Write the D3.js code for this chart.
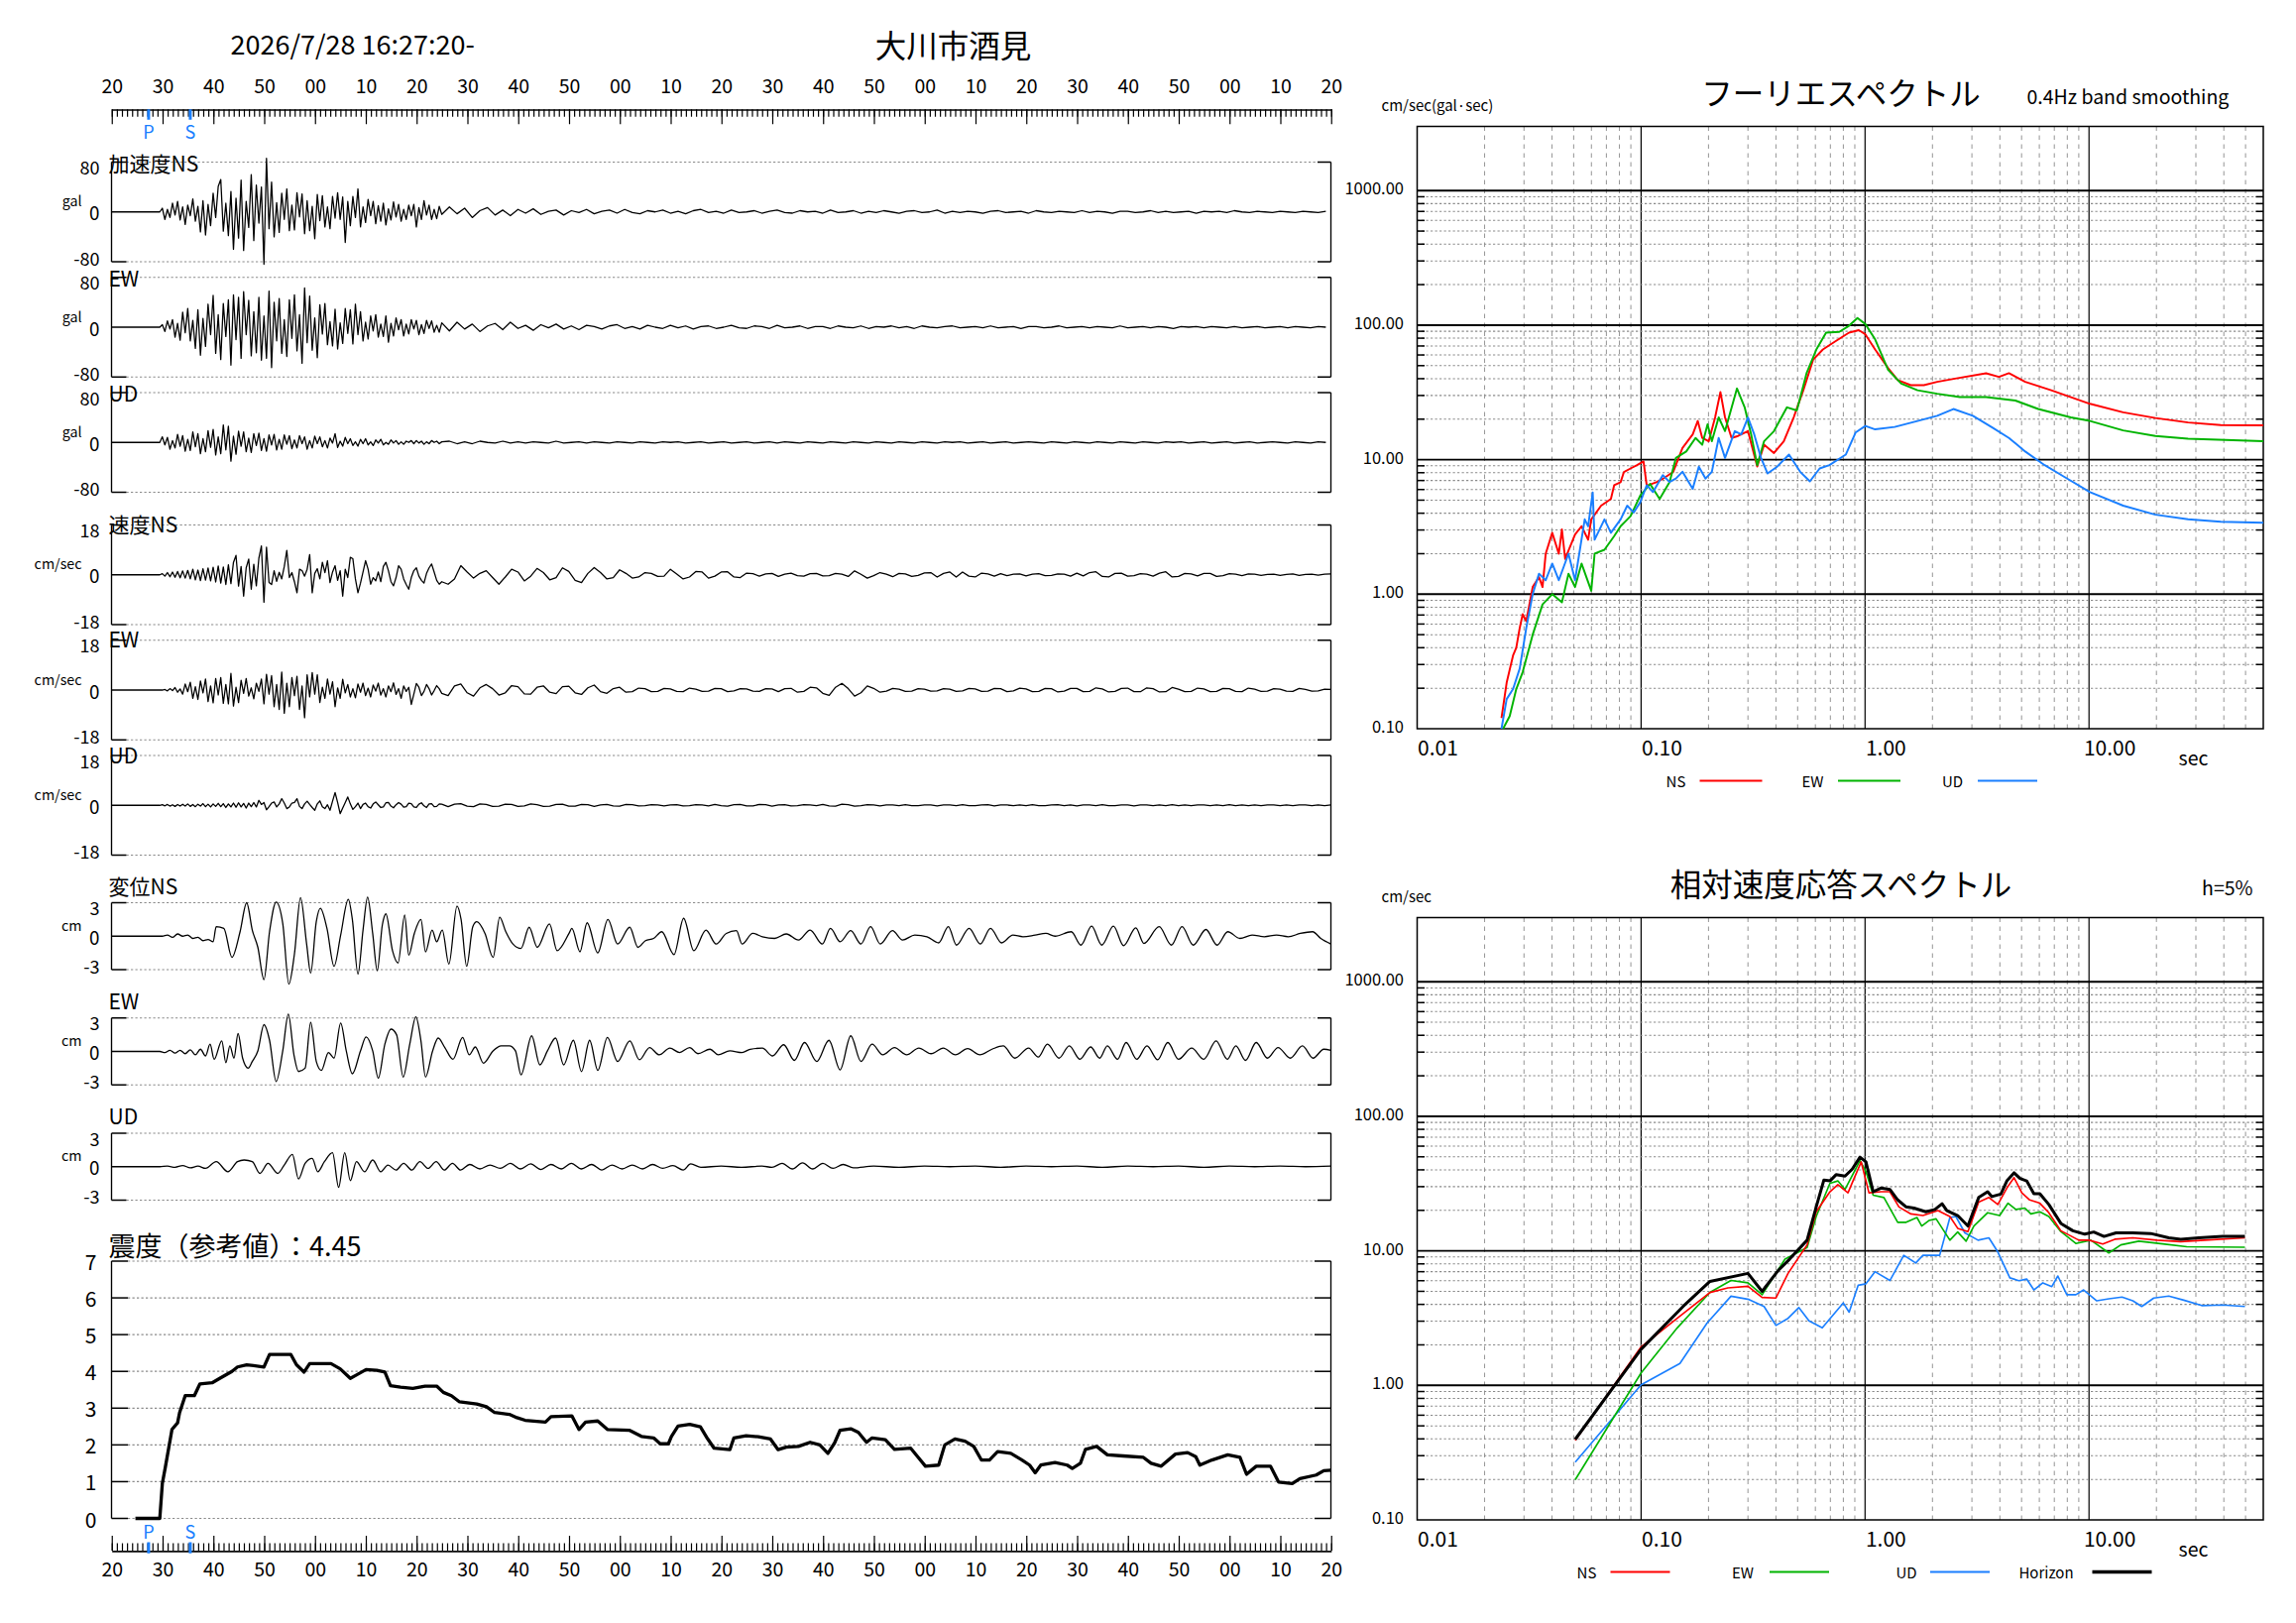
<!DOCTYPE html>
<html>
<head>
<meta charset="utf-8">
<script src="https://cdn.jsdelivr.net/npm/d3@7"></script>
<style>
  body { margin: 0; background: #fff; }
  text { font-family: 'Noto Sans CJK JP', 'Noto Sans', sans-serif; fill: #000; }
</style>
</head>
<body>
<svg id="chart"></svg>
<script>
// ---------- data ----------
var titleText = "2026/7/28 16:27:20-";
var stationName = "大川市酒見";
var timeLabels = ["20","30","40","50","00","10","20","30","40","50","00","10","20","30","40","50","00","10","20","30","40","50","00","10","20"];
var pTime = 7.3, sTime = 15.5;   // seconds after 16:27:20
var intensityTitle = "震度（参考値）：4.45";

// acceleration (gal): head every 0.5 s from 9.5 s, tail every 1.5 s
var accNS = [
  0, 6, -12, 4, -9, 14, -5, 17, -13, 8,
  -20, 11, -6, 21, -15, 9, -32, 18, -37, 12,
  -22, 30, -9, 41, 52, -31, 14, -38, 33, -60,
  22, -42, 51, -62, 17, -25, 60, -46, 43, -18,
  40, -84, 86, -27, 48, -40, 15, -33, 30, -12,
  37, -30, 11, -29, 31, -8, 29, -35, 18, -30,
  9, -43, 28, -14, 26, -24, 8, -27, 25, -10,
  31, -12, 24, -49, 17, -22, 25, -9, 37, -24,
  8, -17, 20, -6, 17, -19, 10, -15, 14, -21,
  5, -13, 16, -8, 12, -15, 4, -12, 11, -6,
  12, -24, 7, -12, 18, -5, 11, -12, 4, -11,
  9, -4
];
var accNSTail = [
  8, -3, 6, -9, 2, 7, -5, 3, -6, 4,
  -2, 5, -4, 1, 3, -5, 2, -1, 4, -3,
  1, 3, -2, 4, -1, -3, 2, 0, 3, -2,
  1, -3, 2, 4, -1, 1, -2, 3, -1, 0,
  2, -2, 1, 3, -1, -2, 2, 0, 1, -2,
  3, -1, 0, 2, -2, 1, -1, 2, 0, -2,
  1, 2, -1, 0, 3, -2, 1, -1, 1, 0,
  -2, 1, 2, -1, 0, 1, -2, 2, 0, -1,
  1, 0, -1, 2, -1, 1, 0, -2, 1, 1,
  -1, 0, 2, -1, 1, -1, 0, 1, -2, 1,
  0, 1, -1, 2, 0, -1, 1, 0, -1, 1,
  0, -1, 1, 0, -1, 1, 0
];
var accEW = [
  0, 4, -7, 10, -3, 12, -16, 6, -21, 24,
  -9, 30, -22, 11, -34, 28, -45, 14, -31, 37,
  -12, 51, -42, 20, -52, 38, -15, 44, -61, 52,
  -20, 48, -50, 57, -12, 43, -46, 25, -41, 48,
  -53, 18, -50, 58, -65, 40, -22, 46, -42, 12,
  -47, 44, -18, 52, -38, 20, -58, 63, -25, 50,
  -37, 15, -49, 36, -11, 38, -28, 9, -30, 29,
  -35, 7, -26, 30, -10, 28, -27, 37, -12, 25,
  -22, 8, -19, 18, -6, 20, -16, 5, -15, 18,
  -24, 6, -14, 15, -4, 12, -14, 5, -11, 12,
  -3, 11, -12, 4, -10, 11, -2, 10, -8, 3,
  -8, 7
];
var accEWTail = [
  -6, 8, -3, 5, -7, 2, 6, -4, 8, -2,
  3, -5, 4, -1, 5, -3, 2, -4, 3, 1,
  -3, 2, 4, -2, 1, -3, 3, 0, -2, 3,
  -1, 2, -3, 1, 2, -2, 0, 3, -1, -2,
  2, 1, -2, 3, -1, 0, 2, -2, 1, 1,
  -2, 2, 0, -1, 2, -2, 1, 0, 2, -1,
  1, -2, 2, 0, -1, 1, 2, -1, 0, 1,
  -1, 2, -1, 0, 1, -2, 1, 1, -1, 0,
  2, -1, 0, 1, -1, 1, 0, -1, 2, -1,
  0, 1, -1, 1, 0, -2, 1, 0, 1, -1,
  1, 0, -1, 1, -1, 0, 1, -1, 0, 1,
  -1, 1, 0, -1, 1, 0, -1
];
var accUD = [
  0, 9, -4, 8, -11, 3, -9, 13, -6, 11,
  -14, 5, -13, 17, -7, 14, -18, 6, -15, 19,
  -8, 21, -20, 9, -18, 28, -12, 26, -30, 10,
  -19, 18, -6, 17, -15, 7, -16, 14, -5, 15,
  -13, 6, -14, 12, -4, 13, -12, 5, -11, 12,
  -3, 11, -10, 4, -9, 11, -2, 9, -11, 3,
  -9, 10, -2, 9, -7, 3, -9, 7, -1, 14,
  -8, 2, -6, 8, -2, 6, -5, 1, -6, 5,
  -2, 6, -4, 1, -5, 4, -1, 5, -4, 0,
  -3, 4, -1, 3, -3, 1, -3, 2, 0, 3,
  -2, 3, -1, 2, -3, 1, -2, 3, 0, 2,
  -2, 1
];
var accUDTail = [
  2, -2, 1, -2, 2, 0, -1, 2, -1, 1,
  -1, 1, 0, -1, 2, -1, 0, 1, -1, 1,
  0, -1, 1, 0, -1, 1, 0, -1, 1, 0,
  1, -1, 0, 1, -1, 0, 1, -1, 0, 1,
  -1, 0, 1, -1, 1, 0, -1, 1, 0, -1,
  1, 0, -1, 1, 0, -1, 1, 0, -1, 1,
  0, -1, 1, 0, -1, 1, 0, 1, -1, 0,
  1, -1, 0, 1, -1, 0, 1, 0, -1, 1,
  0, -1, 1, 0, -1, 1, 0, -1, 1, 0,
  -1, 1, 0, -1, 1, 0, 1, -1, 0, 1,
  -1, 0, 1, -1, 0, 1, -1, 0, 1, 0,
  -1, 1, 0, -1, 1, 0, -1
];

// velocity (cm/sec): head every 0.5 s from 9.5 s, tail every 1.25 s
var velNS = [
  0, 0.4, -0.5, 0.8, -0.7, 1.0, -0.9, 1.2, -1.1, 1.4,
  -1.2, 1.6, -1.5, 2.0, -1.8, 1.7, -2.1, 2.2, -1.9, 2.5,
  -2.2, 2.7, -2.6, 3.2, -3.0, 2.8, -3.5, 3.6, -3.2, 4.5,
  7.0, -4.1, 3.0, -7.7, 2.5, 5.7, -5.2, 3.8, -4.0, 6.0,
  10.4, -9.9, 10.0, -2.8, -3.5, 1.5, -2.4, 0.9, -1.5, 3.0,
  8.8, -1.0, 0.8, -2.5, -6.5, 2.0, 1.5, -0.5, 2.0, 7.3,
  -6.5, 0.5, 2.2, -1.5, 4.5, 0.8, 5.1, -2.8, 1.0, 3.3,
  -2.0, 1.5, -7.7, 2.0, -1.0, 6.3, 5.8, -1.5, -6.5, -3.0,
  1.0, 5.1, 2.0, -3.4, -1.0, -2.2, 1.0, -2.5, 3.0, 4.5,
  1.5, -2.5, -4.0, -1.0, 3.3, 2.0, -1.5, -3.5, -5.2, -1.0,
  1.5, 2.5, -0.5, -2.0, -3.0, 0.5, 2.5, 3.9, 1.0, -2.0,
  -3.4, -2.5
];
var velNSTail = [
  -3.4, -1.5, 3.3, 1.0, -1.2, 0.5, 1.5, -1.0, -3.4, -0.8,
  2.0, 1.0, -2.2, -0.5, 2.3, 0.8, -1.8, -1.0, 2.5, 1.2,
  -2.0, -2.8, 0.5, 2.6, 0.8, -1.5, -1.0, 1.8, 0.5, -1.2,
  -0.8, 0.8, 0.5, -0.6, -0.5, 2.0, 0.3, -1.5, -0.8, 1.2,
  1.0, -1.2, -0.5, 1.0, 1.1, -0.8, -1.0, 0.6, 0.4, -0.5,
  0.3, 0.5, -0.6, 0.2, 0.6, -0.3, -0.5, 0.4, 0.5, -0.4,
  -0.3, 0.5, 0.2, -0.6, 1.4, 0.2, -1.2, -0.3, 0.8, 0.2,
  -0.7, 0.5, 0.3, -0.6, -0.2, 0.7, 0.8, -0.8, 0.5, 1.0,
  -0.8, 1.0, -0.5, -0.8, 0.6, 0.3, -0.5, 0.4, -0.3, 0.2,
  0.3, -0.4, 0.2, 0.4, -0.3, -0.2, 0.3, 0.2, -0.5, 0.6,
  -0.4, 0.8, 1.1, -0.6, -0.8, 0.5, 0.6, -0.5, -0.3, 0.4,
  0.2, -0.5, 0.6, 1.1, -0.8, -0.6, 0.5, 0.3, -0.4, 0.5,
  0.5, -0.6, -0.3, 0.4, 0.2, -0.3, 0.3, 0.2, -0.2, 0.1,
  0.2, -0.2, 0.1, 0.3, -0.2, 0.1, 0.2, -0.1, 0.2, 0.3
];
var velEW = [
  0, 0, 0.2, -0.3, 0.5, -0.2, 0.9, -0.8, 0.4, -1.5,
  2.2, -0.6, 2.8, -3.0, 1.2, -3.4, 3.3, -1.0, 4.0, -4.2,
  1.5, -4.6, 4.2, -1.8, 4.5, -4.8, 2.0, -5.0, 6.0, -5.8,
  1.0, -4.5, 3.5, -1.2, 4.2, -2.2, 0.8, -3.2, 2.5, -0.5,
  4.0, -5.0, 5.7, -1.5, 5.2, -6.0, 2.0, -7.0, 6.5, -8.4,
  2.5, -6.0, 4.5, -2.0, 5.0, -7.0, 1.5, -10.0, 5.5, -2.5,
  6.3, -1.5, 5.5, -4.5, 1.0, -3.0, 4.0, -1.5, 3.0, -6.0,
  0.8, -3.0, 3.9, -1.0, 2.0, -2.5, 0.5, -2.8, 2.2, -0.8,
  2.5, -2.0, 0.7, -2.5, 1.8, -0.4, 2.5, -1.8, 0.5, -2.5,
  1.5, -0.6, 2.6, -1.6, 0.5, -3.0, 1.5, -0.5, 1.0, -5.2,
  -1.5, 2.4, 1.0, -2.0, -0.5, 2.0, 0.5, -1.8, -0.2, 1.6,
  0.5, -1.2
];
var velEWTail = [
  -2.0, 1.5, 2.2, -1.0, -2.2, 0.8, 2.0, 0.5, -1.8, -1.0,
  1.6, 1.2, -1.4, -1.5, 1.0, 1.5, -0.8, -1.3, 1.2, 1.4,
  -1.0, -1.6, 0.8, 1.8, -0.6, -1.2, 0.5, 1.0, -0.8, -0.6,
  0.7, 0.5, -0.6, -0.5, 0.6, 0.4, -0.5, -0.6, 0.7, 0.3,
  -0.5, -0.4, 0.6, 0.5, -0.6, -0.3, 0.5, 0.4, -0.4, -0.5,
  0.5, 0.4, -0.6, 0.5, 0.6, -0.8, -0.5, 1.0, 0.8, -1.2,
  -1.9, 1.0, 2.4, 0.5, -2.2, -1.0, 1.5, 0.6, -0.8, -0.4,
  0.6, 0.3, -0.5, -0.4, 0.5, 0.3, -0.4, -0.3, 0.5, 0.3,
  -0.5, -0.3, 0.6, 0.4, -0.5, -0.4, 0.6, 0.5, -0.6, -0.3,
  0.7, 0.4, -0.6, -0.5, 0.6, 0.5, -0.7, -0.4, 0.6, 0.6,
  -0.6, -0.5, 0.8, 0.4, -0.7, -0.5, 0.6, 0.7, -0.6, -0.6,
  0.8, 0.5, -0.7, -0.6, 0.9, 0.3, -0.6, -0.5, 0.7, 0.4,
  -0.6, -0.5, 0.6, 0.5, -0.5, -0.6, 0.7, 0.3, -0.5, -0.4,
  0.5, 0.3, -0.4, -0.5, 0.6, 0.2, -0.4, -0.3, 0.3, 0.2
];
var velUD = [
  0, 0.2, -0.2, 0.3, -0.3, 0.2, -0.4, 0.3, -0.3, 0.4,
  -0.3, 0.5, -0.4, 0.3, -0.5, 0.4, -0.3, 0.6, -0.5, 0.4,
  -0.6, 0.5, -0.4, 0.7, -0.5, 0.6, -0.8, 0.5, -0.6, 0.8,
  -0.7, 0.9, -0.6, 0.7, -1.0, 0.8, -0.5, 1.0, -0.6, 1.8,
  0.3, 1.0, -1.6, -0.5, 0.8, 1.2, -0.6, 0.5, 2.4, 0.8,
  -1.2, -0.6, 0.8, 1.0, 2.4, -0.4, -1.2, 0.5, 1.5, 0.3,
  -0.8, -1.8, 0.5, 1.6, -0.5, -1.2, 0.2, -1.8, 1.5, 4.6,
  1.0, -3.0, -1.0, 1.0, 3.0, 0.5, -1.5, -0.5, 0.8, -1.2,
  0.3, 0.8, -0.5, -1.0, 0.5, 1.2, 0.2, -0.8, -0.6, 0.9,
  1.0, -0.3, -0.9, 0.2, 1.0, 0.4, -0.7, -0.5, 0.8, 0.6,
  -0.6, -0.8, 0.4, 0.9, -0.2, -0.8, 0.5, 0.6, -0.5, -0.4,
  0.5, 0.4
];
var velUDTail = [
  -0.5, 0.4, 0.6, -0.3, -0.5, 0.5, 0.3, -0.4, -0.3, 0.4,
  0.3, -0.4, -0.2, 0.5, 0.2, -0.4, -0.3, 0.3, 0.4, -0.3,
  -0.3, 0.3, 0.2, -0.4, 0.1, 0.3, -0.2, -0.3, 0.3, 0.2,
  -0.2, -0.1, 0.2, 0.1, -0.2, 0.1, 0.2, -0.2, -0.1, 0.2,
  0.1, -0.2, 0.3, -0.1, -0.3, 0.2, 0.3, -0.2, -0.2, 0.3,
  0.2, -0.3, 0.1, 0.2, -0.2, -0.1, 0.2, 0.1, -0.1, 0.3,
  -0.2, -0.3, 0.4, 0.2, -0.3, -0.1, 0.2, 0.1, -0.2, 0.1,
  0.1, -0.1, 0.2, -0.1, -0.1, 0.1, 0.1, -0.2, 0.1, 0.1,
  -0.1, 0.2, -0.1, -0.1, 0.1, 0.2, -0.2, 0.1, 0.1, -0.1,
  0.1, -0.1, 0.2, -0.1, -0.1, 0.1, 0.2, -0.1, 0.1, -0.2,
  0.1, 0.1, -0.1, 0.2, -0.1, -0.1, 0.1, 0.1, -0.2, 0.1,
  0.1, -0.1, 0.1, -0.1, 0.2, -0.1, 0.1, -0.1, 0.1, 0.1,
  -0.1, 0.1, -0.1, 0.2, -0.1, 0.1, -0.1, 0.1, -0.1, 0.1,
  0.1, -0.1, 0.1, -0.1, 0.1, 0.1, -0.1, 0.1, -0.1, 0.1
];

// displacement (cm): [seconds, value] at the turning points
var dispNS = [
  [10,0],[11,0.1],[12,-0.1],[13,0.2],[14,0],[15,0.1],[16,-0.2],[17,-0.1],[18,-0.4],[19,-0.3],
  [20,-0.5],[20.6,0.85],[22.1,0.7],[23.7,-1.9],[25.3,0.4],[26.6,3.0],[27.7,0.55],[28.8,-1.0],[30,-3.9],[31.1,0.4],
  [32.4,3.06],[33.7,1.15],[34.9,-4.3],[36,-1.6],[37.2,3.45],[38.4,-0.7],[39.2,-3.3],[40.3,1.3],[41.1,2.5],[42.4,0.7],
  [43.8,-2.7],[45.1,0.1],[46.6,3.3],[47.4,1.5],[48.5,-3.4],[49.5,0.55],[50.4,3.5],[51.4,0.25],[52.3,-3.1],[53.3,1.0],
  [54,2.0],[55.3,-1.3],[56.4,-2.4],[57.7,1.9],[58.5,-1.7],[59.6,0.25],[60.9,1.5],[61.8,-1.4],[63.1,0.55],[64,-0.5],
  [65.1,0.55],[66.4,-2.5],[68,2.7],[68.8,1.5],[69.9,-2.7],[71.1,0.85],[71.9,1.3],[73.5,0.25],[75.1,-1.9],[76.4,1.7],
  [77.6,0.4],[79,-0.7],[80.6,-1.1],[82.2,0.8],[83.8,-1.0],[86.2,1.1],[87.7,-1.3],[90.1,0.3],[90.6,0.7],[92.2,-1.4],
  [93.6,1.2],[95.7,-1.5],[97.7,1.5],[99.6,-0.7],[102,0.8],[103.6,-1.0],[105.1,-0.4],[106.7,-0.2],[108.3,0.4],[110.7,-1.65],
  [112.6,1.6],[114.6,-1.3],[117,0.55],[119,-0.7],[121,0.25],[123,0.5],[124.1,-0.7],[126.2,0.25],[128.1,-0.05],[130.5,-0.2],
  [132.8,0.2],[135.2,-0.35],[137.5,0.55],[139.9,-0.7],[141.5,0.7],[143.4,-0.5],[145.5,0.5],[147.5,-0.7],[149.4,0.86],[151.3,-0.7],
  [153.7,0.5],[155.7,-0.35],[158.1,0.1],[160.5,-0.05],[162.8,-0.6],[164.7,0.86],[166.3,-0.8],[168.8,0.7],[171,-0.7],[173,0.7],
  [175.2,-0.6],[177.4,0.1],[179.4,-0.05],[181.8,0.1],[183.9,0.25],[185.7,0],[188.9,0.4],[190.8,-0.8],[192.9,0.9],[194.9,-0.8],
  [197.2,0.9],[199.2,-0.85],[201.6,0.75],[203.2,-0.65],[206.2,0.85],[208.6,-0.8],[210.7,0.85],[212.9,-0.8],[215.4,0.6],[217.6,-0.8],
  [219.7,0.4],[222.1,-0.2],[224.5,0.1],[226.9,-0.05],[229.3,0.1],[231.6,-0.05],[234,0.25],[236.4,0.4],[238,-0.2],[240,-0.7]
];
var dispEW = [
  [9.5,0],[10.5,-0.1],[11.5,0.1],[12.5,-0.15],[13.5,0.1],[14.5,-0.2],[15.5,0.15],[16.5,-0.3],[17.5,0.2],[18.5,-0.4],
  [19.4,0.65],[20.2,-0.7],[21.7,0.95],[22.5,-1.0],[23.3,0.5],[24.1,-0.6],[24.9,1.6],[25.8,-0.6],[26.9,-1.5],[27.7,-0.9],
  [28.8,0.05],[30,2.4],[31.1,1.0],[32.4,-2.7],[33.7,0.05],[34.8,3.35],[35.9,-0.3],[36.8,-1.8],[38.1,-1.5],[39.2,2.6],
  [40.3,-0.9],[41.3,-1.7],[42.7,-0.1],[43.8,-0.6],[45.1,2.55],[46.2,0.05],[47.4,-2.0],[49,0.05],[50.1,1.3],[51.4,0.05],
  [52.5,-2.4],[53.8,0.65],[55,2.0],[56.1,1.5],[57.4,-2.3],[58.7,0.65],[59.9,3.1],[60.9,0.95],[61.8,-2.3],[63.2,0.05],
  [64.3,1.2],[65.6,0.35],[67.2,-0.7],[69.1,1.26],[70.4,-0.3],[71.6,0.4],[73.2,-1.05],[75.1,0.05],[76.7,0.5],[78.3,0.5],
  [79.5,0.05],[80.6,-2.1],[82.7,1.4],[84.3,-1.2],[85.8,0.05],[87.4,1.2],[89,-1.2],[90.9,1.0],[92.5,-1.8],[94.1,1.0],
  [95.7,-1.7],[97.6,1.25],[99.6,-0.9],[102,0.95],[103.9,-0.75],[105.9,0.35],[107.8,-0.3],[109.9,0.3],[111.8,-0.1],[113.8,0.35],
  [115.4,-0.2],[117.8,0.2],[119.4,-0.3],[121.7,0.05],[124.1,-0.1],[125.7,0.2],[128.1,0.3],[130.1,-0.4],[132.3,0.6],[134.4,-0.8],
  [136.4,0.8],[138.8,-0.9],[141.2,1.0],[143.4,-1.65],[145.5,1.4],[147.5,-0.9],[149.7,0.65],[151.8,-0.3],[154.1,0.35],[156.5,-0.3],
  [158.9,0.3],[161.3,-0.2],[163.7,0.3],[166.1,-0.3],[168.5,0.25],[170.9,-0.3],[173.3,0.2],[175.5,0.5],[177.8,-0.6],[180.5,0.3],
  [182.4,-0.5],[184.2,0.65],[186.5,-0.6],[188.5,0.5],[190.6,-0.7],[192.7,0.4],[194.5,-0.6],[196,0.5],[198,-0.7],[199.7,0.8],
  [201.8,-0.7],[203.8,0.5],[205.9,-0.75],[207.9,0.8],[210,-0.7],[212.6,0.3],[215,-0.7],[217.4,0.95],[219.6,-0.7],[221.3,0.5],
  [223.2,-0.8],[225.3,0.8],[227.5,-0.6],[229.6,0.35],[232,-0.6],[234.4,0.5],[236.5,-0.6],[238.6,0.2],[240,0.1]
];
var dispUD = [
  [9.5,0],[11,0.05],[12.5,-0.05],[14,0.1],[15.5,-0.1],[17,0.05],[18.5,-0.15],[20.6,0.45],[22.9,-0.45],[24.8,0.45],
  [26.1,0.6],[27.7,0.45],[29.2,-0.6],[30.8,0.3],[32.7,-0.6],[34,0.15],[35.6,1.1],[36.8,-1.1],[38.1,0.3],[39.5,0.75],
  [40.6,-0.45],[41.9,0.45],[43.5,1.25],[44.7,-1.85],[45.9,1.25],[47,-1.25],[48.2,0.45],[49.8,-0.45],[51.4,0.6],[53,-0.45],
  [54.4,0.15],[56,-0.3],[57.5,0.3],[59.1,-0.3],[60.7,0.45],[62.3,-0.15],[63.9,0.45],[65.5,-0.3],[67.1,0.3],[68.7,-0.3],
  [70.5,0.2],[72.5,-0.2],[74.5,0.15],[76.5,-0.15],[78.5,0.3],[80.5,-0.2],[82.5,0.25],[84.5,-0.25],[86.5,0.2],[88.5,-0.2],
  [90.5,0.3],[92.5,-0.2],[94.5,0.2],[96.5,-0.3],[98.5,0.15],[100.5,-0.2],[102.5,0.15],[104.5,-0.2],[106.5,0.2],[108.5,-0.15],
  [110.5,0.1],[112.5,-0.3],[114,0.25],[116,-0.05],[120,0.05],[124,-0.05],[128,0.05],[130,-0.05],[132,0.3],[134,-0.2],
  [136,0.35],[138,-0.2],[140,0.3],[142,-0.15],[144,0.2],[146,-0.1],[150,0.05],[155,-0.05],[160,0.05],[165,0],
  [170,0.05],[175,-0.05],[180,0.05],[185,0],[190,0.05],[195,-0.05],[200,0.05],[205,0],[210,0.05],[215,-0.05],
  [220,0.05],[225,0],[230,0.05],[235,0],[240,0.05]
];

// seismic intensity (reference), [seconds, value]
var intensity = [
  [4.7,0],[9.5,0],[10,0.95],[10.6,1.4],[11.9,2.42],[13,2.6],[13.4,2.88],[14.5,3.34],[16.3,3.34],[17.4,3.66],
  [19.8,3.69],[21.3,3.81],[23.7,4.0],[24.8,4.12],[26.6,4.18],[30,4.12],[31.1,4.46],[35.3,4.46],[36.4,4.18],[37.9,3.98],
  [39,4.21],[43.2,4.21],[45,4.07],[47,3.81],[48.2,3.9],[50.1,4.05],[52.2,4.03],[53.8,3.98],[54.9,3.61],[56.9,3.57],
  [59.3,3.54],[61.7,3.6],[64,3.6],[65.3,3.43],[66.9,3.34],[68.5,3.17],[71.9,3.11],[73.8,3.04],[75.4,2.88],[78.3,2.83],
  [79.8,2.74],[81.4,2.67],[85.4,2.62],[86.5,2.77],[90.6,2.79],[92,2.42],[93.3,2.62],[95.7,2.65],[97.6,2.42],[101.9,2.4],
  [104.3,2.23],[106.7,2.19],[108,2.03],[109.6,2.03],[110.2,2.23],[111.5,2.51],[113.8,2.56],[115.9,2.49],[117.3,2.17],[118.6,1.91],
  [121.7,1.87],[122.5,2.19],[124.9,2.25],[127.3,2.22],[129.7,2.16],[131.2,1.87],[132.8,1.94],[135.2,1.96],[137.5,2.07],[139.4,2.0],
  [141,1.77],[142.3,2.05],[143.4,2.4],[145.5,2.44],[147,2.34],[148.6,2.07],[149.7,2.19],[152.3,2.14],[154.1,1.88],[157.3,1.91],
  [158.9,1.64],[160.2,1.42],[162.8,1.45],[164,2.0],[166,2.16],[168,2.1],[169.7,1.96],[171.2,1.59],[172.8,1.59],[174.4,1.82],
  [177,1.77],[179.2,1.59],[180.7,1.45],[181.8,1.24],[182.9,1.45],[185.7,1.52],[188.1,1.45],[189.1,1.36],[190.7,1.5],[191.7,1.88],
  [193.9,1.96],[196,1.73],[199.1,1.7],[203.1,1.66],[204.6,1.5],[206.6,1.42],[209.4,1.75],[211.8,1.79],[213.4,1.68],[214.2,1.45],
  [216.6,1.59],[219.7,1.73],[222.1,1.66],[223.4,1.2],[225.3,1.42],[228.1,1.42],[229.7,0.99],[232.4,0.95],[233.9,1.08],[237.1,1.18],
  [238.6,1.3],[240,1.31]
];

// Fourier spectra, [period sec, cm/sec]
var fourierNS = [
  [0.0238,0.12],[0.0251,0.22],[0.0268,0.35],[0.0277,0.40],[0.0287,0.56],[0.0296,0.71],[0.0307,0.63],[0.0328,1.13],[0.035,1.34],[0.0363,1.13],
  [0.0375,2.0],[0.0401,2.86],[0.0429,2.0],[0.0443,3.03],[0.0458,1.83],[0.0507,2.78],[0.0542,3.2],[0.058,2.54],[0.0599,3.6],[0.0663,4.55],
  [0.0733,5.1],[0.0758,6.45],[0.081,6.8],[0.0838,8.1],[0.0897,8.6],[0.0959,9.1],[0.1025,9.7],[0.106,6.4],[0.117,6.8],[0.125,7.2],
  [0.139,8.1],[0.153,12.2],[0.170,15.4],[0.179,19.4],[0.1875,14.5],[0.2005,13.7],[0.214,20.6],[0.226,31.8],[0.237,20.6],[0.2535,14.5],
  [0.271,15],[0.30,16.3],[0.33,8.9],[0.354,12.9],[0.392,11.2],[0.4335,13.7],[0.48,20.6],[0.53,32.8],[0.586,55.3],[0.648,65.9],
  [0.74,76.2],[0.848,88],[0.938,91.7],[1.003,85.5],[1.109,65.9],[1.268,47.8],[1.40,39],[1.60,35.8],[1.83,35.8],[2.10,37.9],
  [2.56,40.2],[3.47,43.9],[3.96,41.2],[4.39,43.9],[5.19,37.9],[6.78,32.8],[10.1,26],[14.2,22.5],[19.8,20.4],[27.7,18.9],
  [38.8,18.1],[60,18.0]
];
var fourierEW = [
  [0.0242,0.1],[0.0259,0.124],[0.0277,0.197],[0.0296,0.264],[0.0328,0.5],[0.0363,0.84],[0.0401,1.0],[0.0443,0.87],[0.0474,1.42],[0.0507,1.13],
  [0.0542,1.69],[0.0599,1.06],[0.062,2.0],[0.0686,2.14],[0.0758,2.7],[0.081,3.2],[0.0897,3.8],[0.0991,5.4],[0.1096,6.6],[0.121,5.1],
  [0.134,6.8],[0.143,10.3],[0.159,11.5],[0.175,14.5],[0.1875,12.9],[0.198,18.3],[0.207,13.7],[0.222,20.6],[0.237,16.3],[0.268,33.8],
  [0.29,24.5],[0.31,15.4],[0.33,9.1],[0.354,13.7],[0.392,16.3],[0.448,24.5],[0.496,23.2],[0.548,43.9],[0.606,65.9],[0.67,88],
  [0.767,89],[0.848,98.9],[0.925,113],[1.003,101.8],[1.109,78.4],[1.268,46.5],[1.45,36.8],[1.715,32.8],[2.10,30.9],[2.65,29.2],
  [3.47,29.2],[4.69,27.5],[5.93,23.8],[8.29,20.6],[10.1,19.4],[14.2,16.5],[19.8,15],[27.7,14.3],[60,13.7]
];
var fourierUD = [
  [0.0238,0.1],[0.0251,0.166],[0.0268,0.197],[0.0287,0.28],[0.0307,0.56],[0.0328,1.0],[0.035,1.42],[0.0375,1.27],[0.0401,1.69],[0.0429,1.27],
  [0.0474,2.0],[0.0507,1.27],[0.056,3.6],[0.058,3.2],[0.0608,5.7],[0.062,2.54],[0.0686,3.6],[0.0733,2.86],[0.081,3.6],[0.0867,4.55],
  [0.0927,4.05],[0.0991,4.82],[0.106,6.45],[0.113,5.74],[0.125,7.67],[0.134,6.83],[0.143,7.24],[0.153,8.13],[0.17,6.08],[0.181,8.87],
  [0.194,7.24],[0.207,8.13],[0.222,14.5],[0.237,10.3],[0.262,16.3],[0.28,15.4],[0.30,20.6],[0.32,15.4],[0.343,10.3],[0.367,7.9],
  [0.405,8.87],[0.4575,10.9],[0.513,8.13],[0.567,6.9],[0.627,8.6],[0.693,9.1],[0.82,10.9],[0.907,15.9],[1.003,17.8],[1.109,16.8],
  [1.356,17.5],[1.715,19.4],[2.10,21.2],[2.48,23.8],[3.03,21.2],[3.71,17.3],[4.39,14.5],[5.19,11.5],[6.34,9.1],[7.76,7.45],
  [10.1,5.74],[14.2,4.55],[19.8,3.9],[27.7,3.6],[38.8,3.45],[60,3.4]
];

// relative velocity response spectra h=5%, [period sec, cm/sec]
var respNS = [
  [0.0508,0.39],[0.1,1.93],[0.145,3.15],[0.203,4.9],[0.244,5.3],[0.30,5.45],[0.347,4.5],[0.400,4.46],[0.453,6.8],[0.551,11.07],
  [0.605,19.5],[0.697,27.5],[0.756,31.0],[0.839,27.0],[0.893,34.5],[0.961,45.8],[1.041,27.0],[1.177,27.5],[1.291,27.5],[1.417,21.2],
  [1.603,18.8],[1.813,18.3],[2.115,19.9],[2.392,18.0],[2.592,14.7],[2.879,13.9],[3.216,23.0],[3.572,24.9],[3.917,22.1],[4.297,29.3],
  [4.627,35.0],[5.014,27.0],[5.433,23.9],[6.032,22.6],[6.616,19.2],[7.486,14.1],[9.007,12.0],[10.0,12.0],[11.52,11.25],[13.04,12.2],
  [15.69,12.5],[20.07,12.0],[25.68,11.7],[32.86,12.0],[49.68,12.5]
];
var respEW = [
  [0.0508,0.199],[0.1,1.237],[0.145,2.675],[0.203,4.915],[0.252,6.02],[0.30,5.78],[0.347,4.72],[0.439,8.68],[0.551,10.6],[0.605,18.0],
  [0.697,31.8],[0.756,33.1],[0.814,28.6],[0.949,46.9],[1.009,38.9],[1.087,25.9],[1.214,24.9],[1.399,16.3],[1.526,16.3],[1.705,17.7],
  [1.791,15.3],[1.928,16.8],[2.076,17.3],[2.392,12.0],[2.592,13.8],[2.826,11.8],[3.061,15.3],[3.528,19.2],[3.99,18.3],[4.35,22.6],
  [4.714,20.3],[5.17,20.8],[5.5,18.8],[6.032,19.5],[6.616,18.0],[7.486,13.9],[8.733,11.34],[10.19,12.0],[12.26,9.64],[13.87,11.07],
  [16.68,11.81],[21.34,11.25],[27.32,10.72],[49.68,10.63]
];
var respUD = [
  [0.0508,0.269],[0.1,1.01],[0.149,1.455],[0.197,2.9],[0.252,4.6],[0.303,4.35],[0.354,3.86],[0.40,2.79],[0.453,3.15],[0.506,3.79],
  [0.562,3.02],[0.644,2.675],[0.719,3.33],[0.799,4.1],[0.849,3.5],[0.932,5.55],[1.009,5.69],[1.107,7.0],[1.291,6.02],[1.489,9.26],
  [1.684,8.13],[1.813,9.26],[2.154,9.26],[2.392,17.7],[2.544,18.0],[2.791,13.6],[3.196,12.0],[3.572,12.5],[3.917,9.8],[4.431,6.3],
  [4.862,6.0],[5.267,6.17],[5.672,5.12],[6.22,5.78],[6.823,5.42],[7.258,6.5],[7.961,4.72],[8.733,4.72],[9.461,5.12],[10.83,4.25],
  [12.26,4.4],[14.04,4.53],[15.69,4.25],[17.2,3.86],[19.46,4.46],[22.71,4.61],[26.49,4.3],[31.87,3.92],[39.54,3.96],[49.68,3.86]
];
var respH = [
  [0.0508,0.397],[0.1,1.857],[0.154,3.86],[0.203,5.93],[0.300,6.8],[0.347,5.0],[0.408,7.1],[0.461,8.7],[0.551,12.0],[0.605,21.2],
  [0.655,33.6],[0.697,33.1],[0.742,36.8],[0.814,35.9],[0.876,40.5],[0.949,49.7],[1.009,45.8],[1.087,27.5],[1.177,29.3],[1.291,28.6],
  [1.399,23.9],[1.526,21.2],[1.653,20.8],[1.87,19.5],[2.051,20.3],[2.208,22.4],[2.32,19.9],[2.592,18.3],[2.879,15.3],[3.216,24.9],
  [3.528,27.5],[3.684,25.3],[4.04,26.4],[4.297,33.1],[4.627,38.0],[4.922,34.5],[5.267,33.1],[5.672,26.6],[6.032,26.6],[6.616,22.1],
  [7.486,16.0],[8.467,14.1],[9.577,13.3],[10.5,13.8],[11.67,12.8],[13.2,13.6],[15.69,13.6],[18.87,13.45],[22.71,12.5],[25.68,12.2],
  [30.9,12.5],[39.54,12.8],[49.68,12.8]
];

// ---------- drawing ----------
var W = 1544, H = 1091.33;
var RED = "#ff0000", GREEN = "#00b400", BLUE = "#1a7fff";

var svg = d3.select("#chart")
  .attr("width", 2316)
  .attr("height", 1637)
  .attr("viewBox", "0 0 " + W + " " + H);

svg.append("rect").attr("width", W).attr("height", H).attr("fill", "#fff");

function label(g, x, y, txt, size, anchor, color) {
  return g.append("text")
    .attr("x", x).attr("y", y)
    .attr("font-size", size)
    .attr("text-anchor", anchor || "start")
    .attr("dominant-baseline", "central")
    .style("fill", color || "#000")
    .text(txt);
}

// titles
label(svg, 155, 29, titleText, 18);
label(svg, 641, 29, stationName, 21, "middle");

// time scale shared by the left column
var xT = d3.scaleLinear().domain([0, 240]).range([75, 895]);

function styleAxis(g) {
  g.selectAll("path, line").attr("stroke", "#000").attr("stroke-width", 0.8);
  g.selectAll("text").attr("font-size", 13).style("fill", "#000");
  g.attr("font-family", null);
}

// top time axis
var topAxis = svg.append("g").attr("transform", "translate(0,73.5)");
topAxis.append("g").call(d3.axisTop(xT).tickValues(d3.range(0, 241, 1)).tickSize(-5).tickSizeOuter(0).tickFormat(""))
  .call(styleAxis);
topAxis.append("g").call(d3.axisTop(xT).tickValues(d3.range(0, 241, 10)).tickSize(-10).tickSizeOuter(0)
  .tickPadding(11).tickFormat(function(d, i) { return timeLabels[i]; }))
  .call(styleAxis);

// bottom time axis
var botAxis = svg.append("g").attr("transform", "translate(0,1042.7)");
botAxis.append("g").call(d3.axisBottom(xT).tickValues(d3.range(0, 241, 1)).tickSize(-5).tickSizeOuter(0).tickFormat(""))
  .call(styleAxis);
botAxis.append("g").call(d3.axisBottom(xT).tickValues(d3.range(0, 241, 10)).tickSize(-10).tickSizeOuter(0)
  .tickPadding(8).tickFormat(function(d, i) { return timeLabels[i]; }))
  .call(styleAxis);

// P / S markers
[["P", pTime], ["S", sTime]].forEach(function(m) {
  svg.append("line").attr("x1", xT(m[1])).attr("x2", xT(m[1])).attr("y1", 73.5).attr("y2", 80.5)
    .attr("stroke", BLUE).attr("stroke-width", 2);
  label(svg, xT(m[1]), 88, m[0], 12, "middle", BLUE);
  svg.append("line").attr("x1", xT(m[1])).attr("x2", xT(m[1])).attr("y1", 1037).attr("y2", 1044.5)
    .attr("stroke", BLUE).attr("stroke-width", 2);
  label(svg, xT(m[1]), 1029, m[0], 12, "middle", BLUE);
});

function uniformPoints(head, t0, dt1, tail, dt2) {
  var pts = head.map(function(v, i) { return [t0 + i * dt1, v]; });
  var tEnd = t0 + (head.length - 1) * dt1;
  tail.forEach(function(v, j) { pts.push([tEnd + (j + 1) * dt2, v]); });
  return pts.filter(function(d) { return d[0] <= 240; });
}

var traces = [
  { name: "加速度NS", unit: "gal", max: 80, top: 109, half: 33.5, titleY: 109, pts: uniformPoints(accNS, 9.5, 0.5, accNSTail, 1.5) },
  { name: "EW", unit: "gal", max: 80, top: 186.5, half: 33.5, titleY: 186.5, pts: uniformPoints(accEW, 9.5, 0.5, accEWTail, 1.5) },
  { name: "UD", unit: "gal", max: 80, top: 264, half: 33.5, titleY: 264, pts: uniformPoints(accUD, 9.5, 0.5, accUDTail, 1.5) },
  { name: "速度NS", unit: "cm/sec", max: 18, top: 353, half: 33.5, titleY: 352, pts: uniformPoints(velNS, 9.5, 0.5, velNSTail, 1.25) },
  { name: "EW", unit: "cm/sec", max: 18, top: 430.5, half: 33.5, titleY: 429.5, pts: uniformPoints(velEW, 9.5, 0.5, velEWTail, 1.25) },
  { name: "UD", unit: "cm/sec", max: 18, top: 508, half: 33.5, titleY: 507, pts: uniformPoints(velUD, 9.5, 0.5, velUDTail, 1.25) },
  { name: "変位NS", unit: "cm", max: 3, top: 607, half: 22.5, titleY: 595, pts: dispNS, smooth: true },
  { name: "EW", unit: "cm", max: 3, top: 684.5, half: 22.5, titleY: 672.5, pts: dispEW, smooth: true },
  { name: "UD", unit: "cm", max: 3, top: 762, half: 22.5, titleY: 750, pts: dispUD, smooth: true }
];

traces.forEach(function(tr) {
  var y = d3.scaleLinear().domain([-tr.max, tr.max]).range([tr.top + 2 * tr.half, tr.top]);
  var g = svg.append("g");
  [tr.max, -tr.max].forEach(function(v) {
    g.append("line").attr("x1", 85).attr("x2", 886).attr("y1", y(v)).attr("y2", y(v))
      .attr("stroke", "#8a8a8a").attr("stroke-width", 0.8).attr("stroke-dasharray", "1.5,1.5");
    g.append("line").attr("x1", 75).attr("x2", 85).attr("y1", y(v)).attr("y2", y(v)).attr("stroke", "#000").attr("stroke-width", 1);
    g.append("line").attr("x1", 886).attr("x2", 895).attr("y1", y(v)).attr("y2", y(v)).attr("stroke", "#000").attr("stroke-width", 1);
  });
  g.append("line").attr("x1", 75).attr("x2", 75).attr("y1", y(tr.max)).attr("y2", y(-tr.max)).attr("stroke", "#000").attr("stroke-width", 0.9);
  g.append("line").attr("x1", 895).attr("x2", 895).attr("y1", y(tr.max)).attr("y2", y(-tr.max)).attr("stroke", "#000").attr("stroke-width", 0.9);

  // limit labels nudged inwards so stacked panels do not collide
  label(g, 67, y(tr.max) + 3, String(tr.max), 12, "end");
  label(g, 67, y(0), "0", 12.5, "end");
  label(g, 67, y(-tr.max) - 3, String(-tr.max), 12, "end");
  label(g, 55, y(0) - 8, tr.unit, 9.5, "end");
  label(g, 73, tr.titleY, tr.name, 14);

  var line = d3.line()
    .x(function(d) { return xT(d[0]); })
    .y(function(d) { return y(d[1]); })
    .curve(tr.smooth ? d3.curveMonotoneX : d3.curveLinear);
  g.append("path").datum([[0, 0]].concat(tr.pts))
    .attr("d", line).attr("fill", "none").attr("stroke", "#000").attr("stroke-width", 0.85)
    .attr("stroke-linejoin", "round");
});

// intensity panel
(function() {
  var y = d3.scaleLinear().domain([0, 7]).range([1021, 848]);
  var g = svg.append("g");
  label(g, 73, 837, intensityTitle, 18);
  d3.range(0, 8).forEach(function(v) {
    g.append("line").attr("x1", 86).attr("x2", 884).attr("y1", y(v)).attr("y2", y(v))
      .attr("stroke", "#8a8a8a").attr("stroke-width", 0.8).attr("stroke-dasharray", "1.5,1.5");
    g.append("line").attr("x1", 75).attr("x2", 86).attr("y1", y(v)).attr("y2", y(v)).attr("stroke", "#000").attr("stroke-width", 1);
    g.append("line").attr("x1", 884).attr("x2", 895).attr("y1", y(v)).attr("y2", y(v)).attr("stroke", "#000").attr("stroke-width", 1);
    label(g, 65, y(v), String(v), 14, "end");
  });
  g.append("line").attr("x1", 75).attr("x2", 75).attr("y1", y(7)).attr("y2", y(0)).attr("stroke", "#000").attr("stroke-width", 0.9);
  g.append("line").attr("x1", 895).attr("x2", 895).attr("y1", y(7)).attr("y2", y(0)).attr("stroke", "#000").attr("stroke-width", 0.9);
  g.append("path").datum(intensity)
    .attr("d", d3.line().x(function(d) { return xT(d[0]); }).y(function(d) { return y(d[1]); }))
    .attr("fill", "none").attr("stroke", "#000").attr("stroke-width", 2.2).attr("stroke-linejoin", "round");
})();

// log-log spectrum panels
function spectrumPanel(opt) {
  var L = 953, R = 1522, B = opt.bottom, T = opt.bottom - 405;
  var xs = d3.scaleLog().domain([0.01, 60]).range([L, R]);
  var ys = d3.scaleLog().domain([0.1, 3000]).range([B, T]);
  var g = svg.append("g");

  label(g, 1238, opt.titleY, opt.title, 21, "middle");
  label(g, opt.noteX, opt.titleY + 3, opt.note, 13, opt.noteAnchor);
  label(g, opt.unitX, T - 15, opt.unit, 10, "start");

  // vertical grid
  [0.01, 0.1, 1, 10].forEach(function(k) {
    d3.range(2, 10).forEach(function(m) {
      var v = m * k;
      if (v >= 60) return;
      g.append("line").attr("x1", xs(v)).attr("x2", xs(v)).attr("y1", T).attr("y2", B)
        .attr("stroke", "#9a9a9a").attr("stroke-width", 0.7).attr("stroke-dasharray", "3,3");
    });
  });
  [0.1, 1, 10].forEach(function(v) {
    g.append("line").attr("x1", xs(v)).attr("x2", xs(v)).attr("y1", T).attr("y2", B)
      .attr("stroke", "#000").attr("stroke-width", 0.8);
  });
  // horizontal grid
  [0.1, 1, 10, 100].forEach(function(k) {
    d3.range(2, 10).forEach(function(m) {
      var v = m * k;
      g.append("line").attr("x1", L).attr("x2", R).attr("y1", ys(v)).attr("y2", ys(v))
        .attr("stroke", "#8a8a8a").attr("stroke-width", 0.7).attr("stroke-dasharray", "1.5,1.5");
      g.append("line").attr("x1", L).attr("x2", L + 5).attr("y1", ys(v)).attr("y2", ys(v)).attr("stroke", "#000").attr("stroke-width", 1);
      g.append("line").attr("x1", R - 5).attr("x2", R).attr("y1", ys(v)).attr("y2", ys(v)).attr("stroke", "#000").attr("stroke-width", 1);
    });
  });
  [1, 10, 100, 1000].forEach(function(v) {
    g.append("line").attr("x1", L).attr("x2", R).attr("y1", ys(v)).attr("y2", ys(v))
      .attr("stroke", "#000").attr("stroke-width", 1.3);
  });
  g.append("rect").attr("x", L).attr("y", T).attr("width", R - L).attr("height", B - T)
    .attr("fill", "none").attr("stroke", "#000").attr("stroke-width", 1);

  // tick labels
  var fmt = d3.format(".2f");
  [0.1, 1, 10, 100, 1000].forEach(function(v) {
    label(g, 944, ys(v) - 2, fmt(v), 11, "end");
  });
  [0.01, 0.1, 1, 10].forEach(function(v) {
    label(g, xs(v) + 14, B + 12, fmt(v), 14, "middle");
  });
  label(g, 1475, B + 19, "sec", 13, "middle");

  // curves
  var line = d3.line().x(function(d) { return xs(d[0]); }).y(function(d) { return ys(d[1]); });
  opt.series.forEach(function(s) {
    g.append("path").datum(s.data).attr("d", line).attr("fill", "none")
      .attr("stroke", s.color).attr("stroke-width", s.width).attr("stroke-linejoin", "round");
  });

  // legend
  opt.series.forEach(function(s) {
    label(g, s.lx, B + 35, s.name, 10, "middle");
    g.append("line").attr("x1", s.l1).attr("x2", s.l2).attr("y1", B + 35).attr("y2", B + 35)
      .attr("stroke", s.color).attr("stroke-width", s.name === "Horizon" ? 2.4 : 1.4);
  });
}

spectrumPanel({
  bottom: 490, titleY: 61, title: "フーリエスペクトル",
  note: "0.4Hz band smoothing", noteX: 1363, noteAnchor: "start",
  unit: "cm/sec(gal·sec)", unitX: 929,
  series: [
    { name: "NS", data: fourierNS, color: RED, width: 1.3, lx: 1127, l1: 1143, l2: 1185 },
    { name: "EW", data: fourierEW, color: GREEN, width: 1.3, lx: 1219, l1: 1236, l2: 1278 },
    { name: "UD", data: fourierUD, color: BLUE, width: 1.3, lx: 1313, l1: 1330, l2: 1370 }
  ]
});

spectrumPanel({
  bottom: 1022, titleY: 593, title: "相対速度応答スペクトル",
  note: "h=5%", noteX: 1515, noteAnchor: "end",
  unit: "cm/sec", unitX: 929,
  series: [
    { name: "UD", data: respUD, color: BLUE, width: 1.1, lx: 1282, l1: 1298, l2: 1338 },
    { name: "EW", data: respEW, color: GREEN, width: 1.1, lx: 1172, l1: 1190, l2: 1230 },
    { name: "NS", data: respNS, color: RED, width: 1.1, lx: 1067, l1: 1083, l2: 1123 },
    { name: "Horizon", data: respH, color: "#000", width: 2.0, lx: 1376, l1: 1407, l2: 1447 }
  ]
});
</script>
</body>
</html>
